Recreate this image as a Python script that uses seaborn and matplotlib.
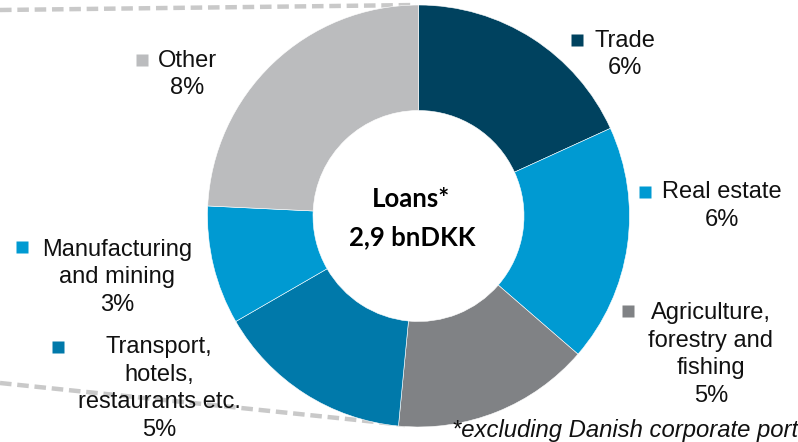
import matplotlib
matplotlib.use("Agg")
import matplotlib.pyplot as plt
import seaborn as sns

# sector split of the loan book (% of total), clockwise from 12 o'clock
sectors = ["Trade", "Real estate", "Agriculture, forestry and fishing",
           "Transport, hotels, restaurants etc.", "Manufacturing and mining", "Other"]
shares = [6, 6, 5, 5, 3, 8]
colors = ["#00425f", "#009ad2", "#808285", "#0079aa", "#009ad2", "#bbbcbe"]

# label text as it is broken in the reference
label_lines = [["Trade", "6%"],
               ["Real estate", "6%"],
               ["Agriculture,", "forestry and", "fishing", "5%"],
               ["Transport,", "hotels,", "restaurants etc.", "5%"],
               ["Manufacturing", "and mining", "3%"],
               ["Other", "8%"]]

W, H = 798, 442

sns.set_theme(style="white")
plt.rcParams["font.family"] = ["Liberation Sans", "DejaVu Sans"]

fig = plt.figure(figsize=(W / 100, H / 100), dpi=100)
ax = fig.add_axes([0, 0, 1, 1])

cx, cy, r = 418.5, H - 216, 211
ax.pie(shares, colors=colors, startangle=90, counterclock=False,
       center=(cx, cy), radius=r,
       wedgeprops=dict(width=r * 0.5, edgecolor="white", linewidth=0.4))

ax.set_xlim(0, W)
ax.set_ylim(0, H)
ax.set_aspect("auto")
ax.axis("off")

# dashed connector lines coming from the neighbouring chart
dash = dict(color="#c9c9c9", lw=3.2, dashes=(2.6, 1.3), zorder=0, solid_capstyle="butt")
ax.plot([0, 416], [H - 10, H - 5], **dash)
ax.plot([0, 405], [H - 383, H - 425], **dash)

# labels: (square x, square y, text centre x, first line y)
label_pos = [(577, 40, 625, 41),
             (645, 192, 722, 192),
             (628, 311, 711, 313),
             (58, 347, 159, 347),
             (22, 247, 117, 250),
             (142, 60, 187, 61)]
line_gap = 27.5
for lines, col, (sx, sy, tx, ty) in zip(label_lines, colors, label_pos):
    ax.plot(sx, H - sy, marker="s", ms=8.5, color=col, mec="none", zorder=3)
    for i, line in enumerate(lines):
        ax.text(tx, H - ty - i * line_gap, line, ha="center", va="center",
                fontsize=17, color="#111111", zorder=3)

ax.text(cx - 7, H - 199, "Loans*", ha="center", va="center", fontsize=18.5,
        fontweight="bold", family="Lato", color="black")
ax.text(cx - 6, H - 237, "2,9 bnDKK", ha="center", va="center", fontsize=18.5,
        fontweight="bold", family="Lato", color="black")

# footnote runs off the slide edge in the source; keep the visible part
ax.text(452, H - 431, "*excluding Danish corporate port", ha="left", va="center",
        fontsize=17.2, style="italic", color="#111111")

fig.savefig("out.png", dpi=100)
